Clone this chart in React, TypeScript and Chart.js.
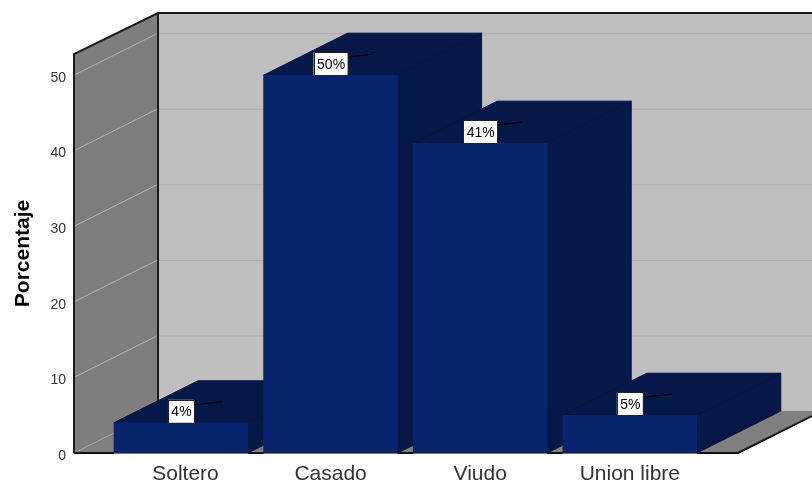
import React, { useEffect, useRef } from "react";
import { Chart, registerables } from "chart.js";

Chart.register(...registerables);

const categories = ["Soltero", "Casado", "Viudo", "Union libre"];
const categoryTickPositions = [0.03, 1, 2, 3];
const percentages = [4, 50, 41, 5];
const yTicks = [0, 10, 20, 30, 40, 50];

const DEPTH_X = 84;
const DEPTH_Y = 42;
const FONT = '"Liberation Sans", Arial, sans-serif';

const poly = (ctx: CanvasRenderingContext2D, pts: number[][], fill?: string, stroke?: string, lw = 1) => {
  ctx.beginPath();
  pts.forEach(([x, y], i) => (i ? ctx.lineTo(x, y) : ctx.moveTo(x, y)));
  if (fill) {
    ctx.closePath();
    ctx.fillStyle = fill;
    ctx.fill();
  }
  if (stroke) {
    ctx.strokeStyle = stroke;
    ctx.lineWidth = lw;
    ctx.stroke();
  }
};

// Back wall, side wall and floor of the box, plus the top and side face of each column.
const boxPlugin = {
  id: "box",
  beforeDatasetsDraw(chart: any) {
    const { ctx, chartArea: a, scales } = chart;
    const y = scales.y;
    const base = a.bottom;
    const backBase = base - DEPTH_Y;
    const backLeft = a.left + DEPTH_X;
    const backTop = a.top - DEPTH_Y + 1;
    ctx.save();
    poly(ctx, [[backLeft, backTop], [chart.width, backTop], [chart.width, backBase], [backLeft, backBase]], "#bfbfbf");
    poly(ctx, [[a.left, base], [a.right, base], [a.right + DEPTH_X, backBase], [backLeft, backBase]], "#808080");
    poly(ctx, [[a.left, a.top], [backLeft, backTop], [backLeft, backBase], [a.left, base]], "#7e7e7e");

    yTicks.forEach((t) => {
      const py = y.getPixelForValue(t);
      if (t > 0) {
        poly(ctx, [[backLeft, py - DEPTH_Y + 0.5], [chart.width, py - DEPTH_Y + 0.5]], undefined, "#adadad", 1);
        poly(ctx, [[a.left, py], [backLeft, py - DEPTH_Y]], undefined, "#b4b4b4", 1);
      } else {
        ctx.setLineDash([1, 1]);
        poly(ctx, [[a.left, py], [backLeft, py - DEPTH_Y]], undefined, "#b4b4b4", 1);
        ctx.setLineDash([]);
      }
    });

    poly(ctx, [[a.left, base], [a.left, a.top], [backLeft, backTop], [chart.width, backTop]], undefined, "#1a1a1a", 2);
    poly(ctx, [[backLeft, backTop], [backLeft, backBase]], undefined, "#1a1a1a", 2);
    poly(ctx, [[a.left, base], [a.right, base], [a.right + DEPTH_X, backBase]], undefined, "#111111", 2);

    const bars = chart.getDatasetMeta(0).data;
    bars.forEach((b: any) => {
      const l = b.x - b.width / 2;
      const r = b.x + b.width / 2;
      const top = b.y;
      poly(ctx, [[l, top], [r, top], [r + DEPTH_X, top - DEPTH_Y], [l + DEPTH_X, top - DEPTH_Y]], "#051848", "#04143c", 1);
      poly(ctx, [[r, top], [r + DEPTH_X, top - DEPTH_Y], [r + DEPTH_X, base - DEPTH_Y], [r, base]], "#051848", "#04143c", 1);
    });
    ctx.restore();
  },
  // Percentage tags sitting on each column, with a leader to the middle of its top face.
  afterDatasetsDraw(chart: any) {
    const { ctx, chartArea: a } = chart;
    ctx.save();
    ctx.font = `14px ${FONT}`;
    ctx.textAlign = "center";
    ctx.textBaseline = "middle";
    chart.getDatasetMeta(0).data.forEach((b: any, i: number) => {
      poly(ctx, [[b.x - b.width / 2, a.bottom + 0.5], [b.x + b.width / 2, a.bottom + 0.5]], undefined, "#777777", 1);
      const text = `${percentages[i]}%`;
      const w = text.length > 2 ? 34 : 26;
      const h = 23;
      const left = b.x - w / 2;
      const top = b.y - h;
      poly(ctx, [[left + w, top + 5], [b.x + DEPTH_X / 2, b.y - DEPTH_Y / 2]], undefined, "#000000", 1.2);
      ctx.fillStyle = "#ffffff";
      ctx.fillRect(left, top, w, h);
      ctx.strokeStyle = "#222222";
      ctx.lineWidth = 1;
      ctx.strokeRect(Math.round(left) + 0.5, Math.round(top) + 0.5, w, h);
      ctx.fillStyle = "#000000";
      ctx.fillText(text, b.x + 0.5, top + h / 2 + 1);
    });
    ctx.restore();
  },
};

export default function App() {
  const ref = useRef<HTMLCanvasElement>(null);
  useEffect(() => {
    const chart = new Chart(ref.current as HTMLCanvasElement, {
      type: "bar",
      data: {
        datasets: [
          {
            data: percentages.map((v, i) => ({ x: i, y: v })),
            backgroundColor: "#08246c",
            barThickness: 134,
            borderWidth: 0,
          },
        ],
      },
      options: {
        responsive: false,
        animation: false,
        layout: { padding: { top: 54, right: 74, left: 0, bottom: 0 } },
        plugins: { legend: { display: false }, tooltip: { enabled: false } },
        scales: {
          x: {
            type: "linear",
            offset: false,
            min: -0.715,
            max: 3.723,
            grid: { display: false, offset: false },
            border: { display: false },
            afterBuildTicks: (axis: any) => {
              axis.ticks = categoryTickPositions.map((value) => ({ value }));
            },
            afterFit: (axis: any) => {
              axis.height = 30;
            },
            ticks: {
              autoSkip: false,
              maxRotation: 0,
              padding: 1,
              color: "#333333",
              font: { family: FONT, size: 21 },
              callback: (_v: any, i: number) => categories[i],
            },
          },
          y: {
            type: "linear",
            min: 0,
            max: 52.8,
            grid: { display: false },
            border: { display: false },
            afterBuildTicks: (axis: any) => {
              axis.ticks = yTicks.map((value) => ({ value }));
            },
            afterFit: (axis: any) => {
              axis.width = 74;
            },
            title: {
              display: true,
              text: "Porcentaje",
              color: "#000000",
              font: { family: FONT, size: 21, weight: "bold" },
              padding: { top: 11, bottom: 0 },
            },
            ticks: {
              padding: 0,
              color: "#333333",
              // An empty first line drops each label just below its gridline.
              font: { family: FONT, size: 14, lineHeight: 0.4 },
              callback: (v: any) => ["", String(v)],
            },
          },
        },
      },
      plugins: [boxPlugin],
    } as any);
    return () => chart.destroy();
  }, []);
  return (
    <div style={{ position: "fixed", left: 0, top: 0, width: 812, height: 483, background: "#ffffff" }}>
      <canvas ref={ref} width={812} height={483} style={{ display: "block" }} />
    </div>
  );
}
